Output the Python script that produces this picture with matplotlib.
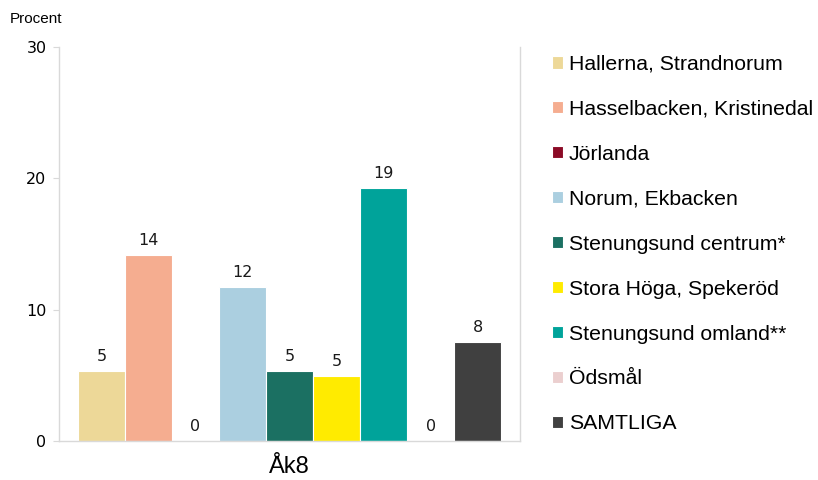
import matplotlib
matplotlib.use("Agg")
import matplotlib.pyplot as plt
import numpy as np

categories = ["Åk8"]
series_names = ["Hallerna, Strandnorum", "Hasselbacken, Kristinedal", "Jörlanda",
                "Norum, Ekbacken", "Stenungsund centrum*", "Stora Höga, Spekeröd",
                "Stenungsund omland**", "Ödsmål", "SAMTLIGA"]
values = [5.35, 14.2, 0, 11.7, 5.35, 4.97, 19.25, 0, 7.55]
colors = ["#EDD898", "#F5AD90", "#8B0A26", "#ABCFE0", "#1B7062", "#FFEB00",
          "#00A39A", "#EBCFCF", "#404040"]
yticks = [0, 10, 20, 30]

fig = plt.figure(figsize=(8.18, 4.8), dpi=100)
ax = fig.add_axes([59/818, 1-441/480, (520-59)/818, (441-47)/480])

n = len(series_names)
bw = 0.102
handles = []
for i, (name, v, c) in enumerate(zip(series_names, values, colors)):
    x = (i - (n-1)/2) * bw
    b = ax.bar(x, v, width=bw, color=c, edgecolor="white", linewidth=0.8, label=name)
    handles.append(b)
    ax.annotate(f"{v:.0f}", xy=(x, v), xytext=(0, 5), textcoords="offset points",
                ha="center", va="bottom", fontsize=11.5, family="DejaVu Sans", color="#1a1a1a")

ax.set_xlim(-0.5, 0.5)
ax.set_ylim(0, 30)
ax.set_yticks(yticks)
ax.set_xticks([0])
ax.set_xticklabels(categories, fontsize=17, family="Liberation Sans")
ax.tick_params(axis="x", length=0, pad=11)
ax.tick_params(axis="y", length=4, color="#D9D9D9", pad=5, labelsize=11.5)
for lab in ax.get_yticklabels():
    lab.set_family("DejaVu Sans")
for s in ["left", "bottom", "right"]:
    ax.spines[s].set_color("#D9D9D9")
    ax.spines[s].set_linewidth(1.0)
ax.spines["top"].set_visible(False)

fig.text(10/818, 1-19/480, "Procent", fontsize=11, family="Liberation Sans", va="center", ha="left")

leg = fig.legend(handles=handles, labels=series_names, loc="upper left",
                 bbox_to_anchor=(552/818, 1-55/480), frameon=False,
                 prop={"family": "Liberation Sans", "size": 15.3},
                 handlelength=0.5, handleheight=0.5, handletextpad=0.3,
                 labelspacing=1.22, borderpad=0, borderaxespad=0)

fig.savefig("out.png", dpi=100)
